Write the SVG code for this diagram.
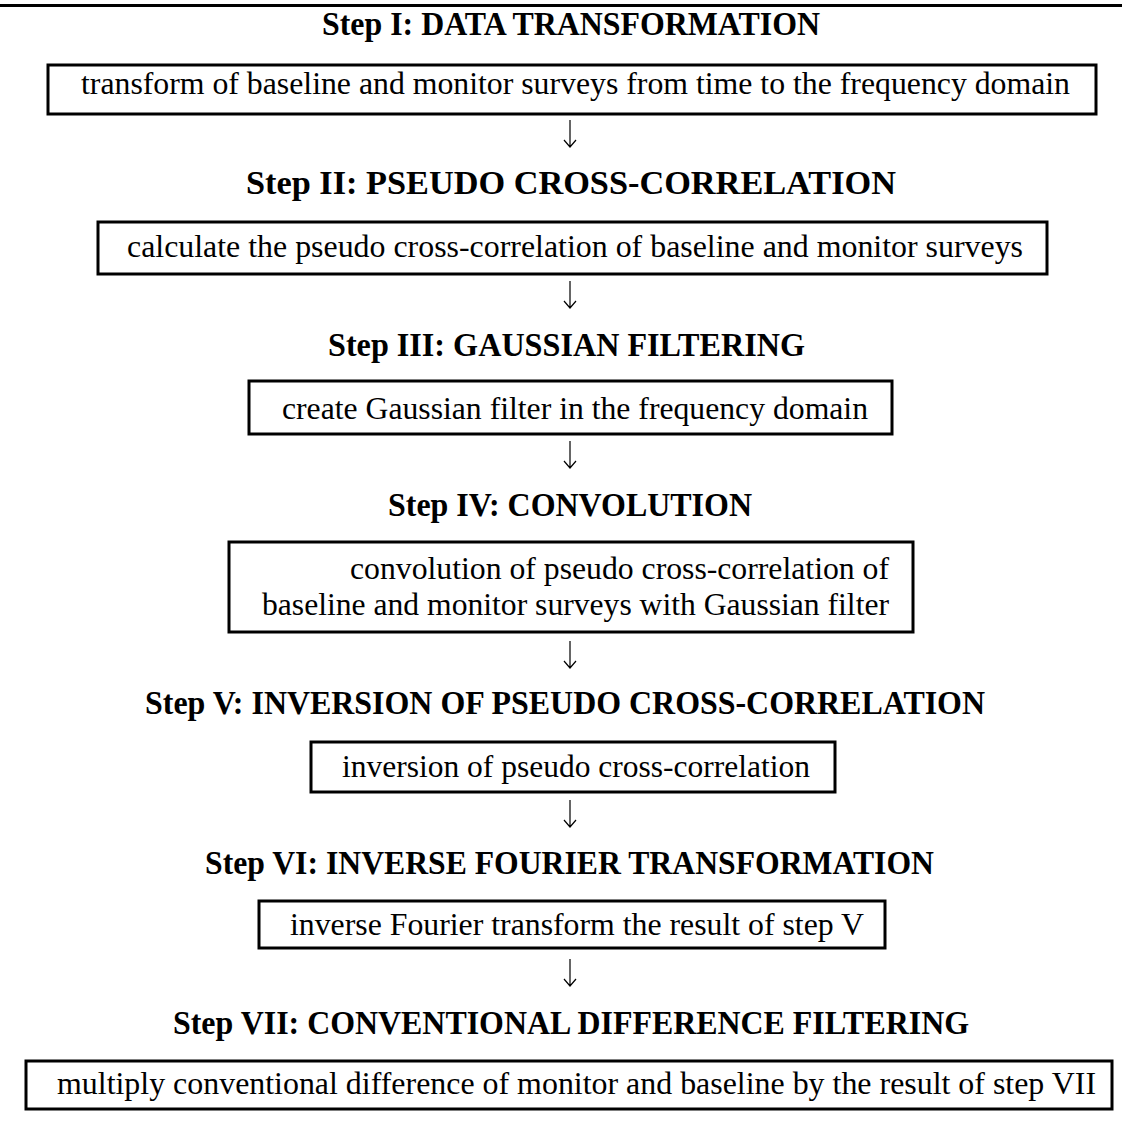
<svg xmlns="http://www.w3.org/2000/svg" width="1122" height="1129" viewBox="0 0 1122 1129">
<style>
.title{font-family:"Liberation Serif","Times New Roman",serif;font-weight:bold;font-size:33px;fill:#000}
.body{font-family:"Liberation Serif","Times New Roman",serif;font-size:32px;fill:#000}
.box{fill:#fff;stroke:#000;stroke-width:3}
.conn{stroke:#000;stroke-width:1.2;fill:none}
</style>
<rect width="1122" height="1129" fill="#fff"/>
<line x1="0" y1="5.5" x2="1122" y2="5.5" stroke="#000" stroke-width="3"/>

<g id="step1">
<text class="title" x="322" y="35" textLength="498" lengthAdjust="spacingAndGlyphs">Step I: DATA TRANSFORMATION</text>
<rect class="box" x="48" y="65" width="1048" height="49"/>
<text class="body" x="81" y="94" textLength="989" lengthAdjust="spacingAndGlyphs">transform of baseline and monitor surveys from time to the frequency domain</text>
</g>

<g id="step2">
<text class="title" x="246" y="194" textLength="650" lengthAdjust="spacingAndGlyphs">Step II: PSEUDO CROSS-CORRELATION</text>
<rect class="box" x="98" y="222" width="949" height="52"/>
<text class="body" x="127" y="257" textLength="896" lengthAdjust="spacingAndGlyphs">calculate the pseudo cross-correlation of baseline and monitor surveys</text>
</g>

<g id="step3">
<text class="title" x="328" y="356" textLength="477" lengthAdjust="spacingAndGlyphs">Step III: GAUSSIAN FILTERING</text>
<rect class="box" x="249" y="381" width="643" height="53"/>
<text class="body" x="282" y="419" textLength="586" lengthAdjust="spacingAndGlyphs">create Gaussian filter in the frequency domain</text>
</g>

<g id="step4">
<text class="title" x="388" y="516" textLength="364" lengthAdjust="spacingAndGlyphs">Step IV: CONVOLUTION</text>
<rect class="box" x="229" y="542" width="684" height="90"/>
<text class="body" x="350" y="579" textLength="539" lengthAdjust="spacingAndGlyphs">convolution of pseudo cross-correlation of</text>
<text class="body" x="262" y="615" textLength="627" lengthAdjust="spacingAndGlyphs">baseline and monitor surveys with Gaussian filter</text>
</g>

<g id="step5">
<text class="title" x="145" y="714" textLength="840" lengthAdjust="spacingAndGlyphs">Step V: INVERSION OF PSEUDO CROSS-CORRELATION</text>
<rect class="box" x="311" y="742" width="524" height="50"/>
<text class="body" x="342" y="777" textLength="468" lengthAdjust="spacingAndGlyphs">inversion of pseudo cross-correlation</text>
</g>

<g id="step6">
<text class="title" x="205" y="874" textLength="729" lengthAdjust="spacingAndGlyphs">Step VI: INVERSE FOURIER TRANSFORMATION</text>
<rect class="box" x="259" y="901" width="626" height="47"/>
<text class="body" x="290" y="935" textLength="574" lengthAdjust="spacingAndGlyphs">inverse Fourier transform the result of step V</text>
</g>

<g id="step7">
<text class="title" x="173" y="1034" textLength="796" lengthAdjust="spacingAndGlyphs">Step VII: CONVENTIONAL DIFFERENCE FILTERING</text>
<rect class="box" x="26" y="1061" width="1086" height="48"/>
<text class="body" x="57" y="1094" textLength="1039" lengthAdjust="spacingAndGlyphs">multiply conventional difference of monitor and baseline by the result of step VII</text>
</g>

<g id="connectors">
<path class="conn" d="M570 120 V147 M564 140 L570 147 L576 140"/>
<path class="conn" d="M570 281 V308 M564 301 L570 308 L576 301"/>
<path class="conn" d="M570 441 V468 M564 461 L570 468 L576 461"/>
<path class="conn" d="M570 641 V668 M564 661 L570 668 L576 661"/>
<path class="conn" d="M570 800 V827 M564 820 L570 827 L576 820"/>
<path class="conn" d="M570 959 V986 M564 979 L570 986 L576 979"/>
</g>
</svg>
